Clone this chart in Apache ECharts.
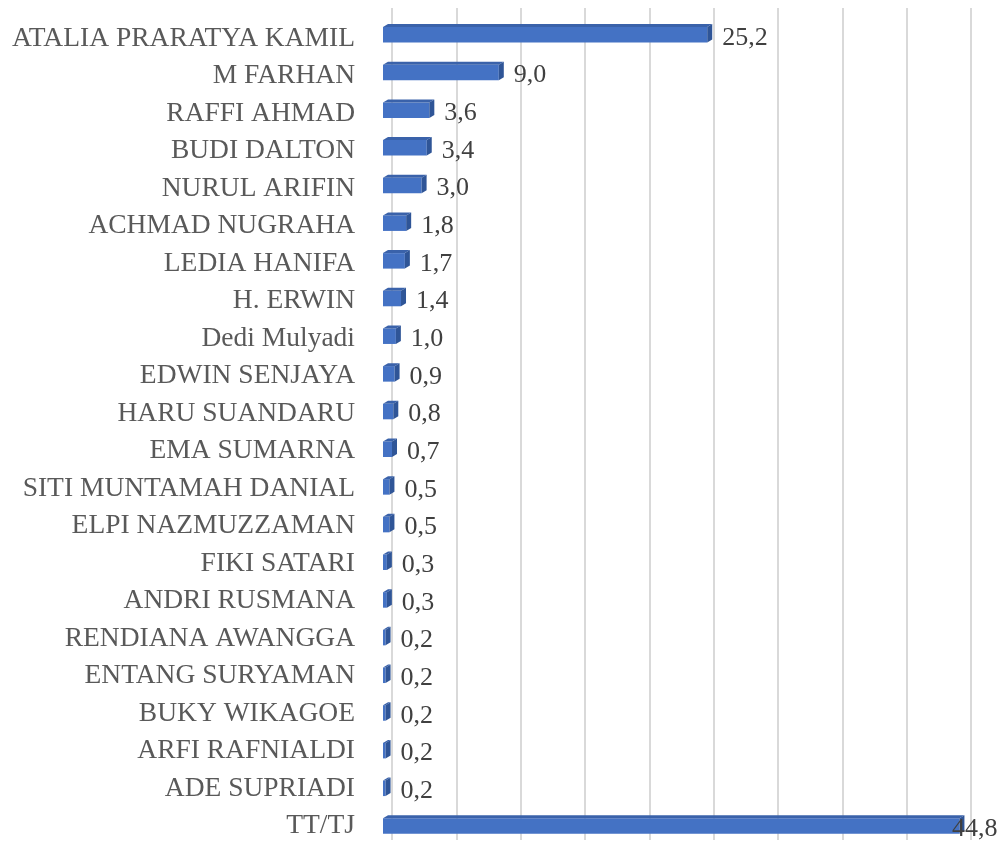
<!DOCTYPE html>
<html>
<head>
<meta charset="utf-8">
<script src="https://cdn.jsdelivr.net/npm/echarts@6/dist/echarts.min.js"></script>
<style>
  html, body { margin: 0; padding: 0; background: #fff; }
  #main { width: 1003px; height: 842px; }
</style>
</head>
<body>
<div id="main"></div>
<script>
  // kategori (urut dari atas ke bawah)
  var names = ['ATALIA PRARATYA KAMIL', 'M FARHAN', 'RAFFI AHMAD', 'BUDI DALTON', 'NURUL ARIFIN',
    'ACHMAD NUGRAHA', 'LEDIA HANIFA', 'H. ERWIN', 'Dedi Mulyadi', 'EDWIN SENJAYA', 'HARU SUANDARU',
    'EMA SUMARNA', 'SITI MUNTAMAH DANIAL', 'ELPI NAZMUZZAMAN', 'FIKI SATARI', 'ANDRI RUSMANA',
    'RENDIANA AWANGGA', 'ENTANG SURYAMAN', 'BUKY WIKAGOE', 'ARFI RAFNIALDI', 'ADE SUPRIADI', 'TT/TJ']
  var values = [25.2, 9.0, 3.6, 3.4, 3.0, 1.8, 1.7, 1.4, 1.0, 0.9, 0.8, 0.7, 0.5, 0.5, 0.3, 0.3,
    0.2, 0.2, 0.2, 0.2, 0.2, 44.8]
  var axisMax = 45
  var axisStep = 5

  var serif = '"Liberation Serif", "Times New Roman", serif'
  var chart = echarts.init(document.getElementById('main'))

  var data = values.map(function (v, i) { return [v, i] })
  var last = names.length - 1

  // batang 3D: muka depan + atas + samping
  function renderItem(params, api) {
    var ci = api.value(1)
    var p0 = api.coord([0, ci])
    var p1 = api.coord([api.value(0), ci])
    var h = 15.5, dx = 5, dy = 3
    var x0 = p0[0], x1 = p1[0]
    var yT = p0[1] - h / 2, yB = p0[1] + h / 2
    var txt = api.value(0).toFixed(1).replace('.', ',')
    var tx = Math.min(x1 + dx + 10, api.getWidth() - 51)
    return {
      type: 'group',
      children: [
        { type: 'rect', shape: { x: x0, y: yT, width: x1 - x0, height: h },
          style: { fill: '#4472C4' } },
        { type: 'polygon', shape: { points: [[x0, yT], [x0 + dx, yT - dy], [x1 + dx, yT - dy], [x1, yT]] },
          style: { fill: '#3A62AA' } },
        { type: 'polygon', shape: { points: [[x1, yT], [x1 + dx, yT - dy], [x1 + dx, yB - dy], [x1, yB]] },
          style: { fill: '#2F5597' } },
        { type: 'text', z2: 10, style: { x: tx, y: p0[1] + 3, text: txt, fill: '#404040',
            font: '26px ' + serif, textAlign: 'left', textVerticalAlign: 'middle' } }
      ]
    }
  }

  var option = {
    animation: false,
    backgroundColor: '#fff',
    grid: [
      { left: 383, width: 579, top: 34.8, height: 791.2 },  // batang (pusat baris pertama..terakhir)
      { left: 392, width: 579, top: 8, height: 828 },       // dinding belakang (gridline)
      { left: 383, width: 579, top: 38.7, height: 787.3 }   // label kategori
    ],
    xAxis: [
      { gridIndex: 0, type: 'value', min: 0, max: axisMax, interval: axisStep, show: false },
      { gridIndex: 1, type: 'value', min: 0, max: axisMax, interval: axisStep,
        axisLine: { show: false },
        axisTick: { show: true, length: 4, lineStyle: { color: '#D9D9D9', width: 2 } },
        axisLabel: { show: false },
        splitLine: { show: true, lineStyle: { color: '#D9D9D9', width: 2 } } },
      { gridIndex: 2, type: 'value', min: 0, max: axisMax, interval: axisStep, show: false }
    ],
    yAxis: [
      { gridIndex: 0, type: 'value', min: 0, max: last, interval: 1, inverse: true, show: false },
      { gridIndex: 1, type: 'category', data: names, inverse: true, show: false },
      { gridIndex: 2, type: 'value', min: 0, max: last, interval: 1, inverse: true,
        axisLine: { show: false }, axisTick: { show: false }, splitLine: { show: false },
        axisLabel: { margin: 28, color: '#595959', fontFamily: serif, fontSize: 27.5,
          showMinLabel: true, showMaxLabel: true, hideOverlap: false,
          formatter: function (v) { return names[v] } } }
    ],
    series: [{
      type: 'custom',
      xAxisIndex: 0,
      yAxisIndex: 0,
      renderItem: renderItem,
      encode: { x: 0, y: 1 },
      data: data,
      clip: false,
      z: 5
    }]
  }

  chart.setOption(option)
</script>
</body>
</html>
